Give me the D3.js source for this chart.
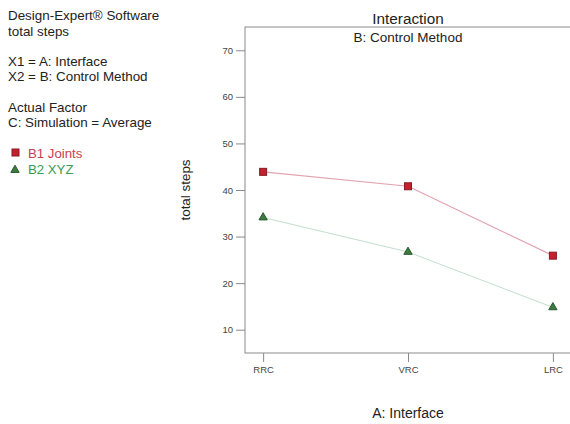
<!DOCTYPE html>
<html>
<head>
<meta charset="utf-8">
<script src="https://cdn.jsdelivr.net/npm/d3@7"></script>
<style>
  body { margin: 0; background: #fff; }
  text { font-family: "Liberation Sans", Arial, sans-serif; }
</style>
</head>
<body>
<div id="chart"></div>
<script>
var interfaces = ["RRC", "VRC", "LRC"];
var joints = [43.9, 40.8, 25.9];
var xyz = [34.1, 26.7, 14.8];
var yTicks = [10, 20, 30, 40, 50, 60, 70];
var infoLines = [
  ["Design-Expert\u00ae Software", 15],
  ["total steps", 31],
  ["X1 = A: Interface", 61],
  ["X2 = B: Control Method", 76],
  ["Actual Factor", 107],
  ["C: Simulation = Average", 122]
];

var width = 570, height = 424;
var margin = {top: 27, right: -1, bottom: 71, left: 245};

var svg = d3.select("#chart")
    .append("svg")
    .attr("width", width)
    .attr("height", height);

// left info block
svg.selectAll(".info")
    .data(infoLines)
    .enter()
    .append("text")
    .attr("x", 8)
    .attr("y", d => d[1])
    .attr("dy", "0.35em")
    .style("font-size", "13.4px")
    .style("fill", "#222")
    .text(d => d[0]);

// legend
svg.append("rect")
    .attr("x", 12).attr("y", 149).attr("width", 7).attr("height", 7)
    .style("fill", "#c42030").style("stroke", "#8a1a22");
svg.append("text")
    .attr("x", 28).attr("y", 153).attr("dy", "0.35em")
    .style("font-size", "13.2px").style("fill", "#c8404e")
    .text("B1 Joints");
svg.append("path")
    .attr("d", d3.symbol(d3.symbolTriangle, 30)())
    .attr("transform", "translate(15, 170)")
    .style("fill", "#3c7a40").style("stroke", "#2a5a2e");
svg.append("text")
    .attr("x", 28).attr("y", 169).attr("dy", "0.35em")
    .style("font-size", "13.2px").style("fill", "#3c9a50")
    .text("B2 XYZ");

var plotW = width - margin.right - margin.left;
var plotH = height - margin.top - margin.bottom;

var g = svg.append("g")
    .attr("transform", `translate(${margin.left}, ${margin.top})`);

var x = d3.scalePoint()
    .domain(interfaces)
    .range([0, plotW])
    .padding(0.125);

var y = d3.scaleLinear()
    .domain([5, 75])
    .range([plotH, 0]);

// frame
g.append("rect")
    .attr("width", plotW).attr("height", plotH)
    .style("fill", "none").style("stroke", "#8a8a8a").style("stroke-width", 1);

var yAxis = g.append("g")
    .call(d3.axisLeft(y).tickValues(yTicks).tickSize(9).tickPadding(3));
yAxis.select(".domain").remove();
yAxis.selectAll("line").style("stroke", "#8a8a8a");
yAxis.selectAll("text").style("font-size", "9.5px").style("fill", "#444")
    .style("font-family", "Liberation Sans, Arial, sans-serif");

var xAxis = g.append("g")
    .attr("transform", `translate(0, ${plotH})`)
    .call(d3.axisBottom(x).tickSize(9).tickPadding(4));
xAxis.select(".domain").remove();
xAxis.selectAll("line").style("stroke", "#8a8a8a");
xAxis.selectAll("text").style("font-size", "9.5px").style("fill", "#444")
    .style("font-family", "Liberation Sans, Arial, sans-serif");

// titles
svg.append("text")
    .attr("x", 408).attr("y", 19).attr("dy", "0.35em")
    .attr("text-anchor", "middle")
    .style("font-size", "15.3px").style("fill", "#222")
    .text("Interaction");
svg.append("text")
    .attr("x", 408).attr("y", 37).attr("dy", "0.35em")
    .attr("text-anchor", "middle")
    .style("font-size", "13.5px").style("fill", "#222")
    .text("B: Control Method");
svg.append("text")
    .attr("x", 408).attr("y", 413).attr("dy", "0.35em")
    .attr("text-anchor", "middle")
    .style("font-size", "14px").style("fill", "#222")
    .text("A: Interface");
svg.append("text")
    .attr("transform", "translate(185, 190) rotate(-90)")
    .attr("dy", "0.35em")
    .attr("text-anchor", "middle")
    .style("font-size", "13.4px").style("fill", "#222")
    .text("total steps");

// series
var line = d3.line()
    .x((d, i) => x(interfaces[i]))
    .y(d => y(d));

g.append("path")
    .datum(xyz)
    .attr("d", line)
    .style("fill", "none").style("stroke", "#c2dfca").style("stroke-width", 1);

g.append("path")
    .datum(joints)
    .attr("d", line)
    .style("fill", "none").style("stroke", "#e2a2ae").style("stroke-width", 1.2);

g.selectAll(".sq")
    .data(joints)
    .enter()
    .append("rect")
    .attr("x", (d, i) => x(interfaces[i]) - 3.5)
    .attr("y", d => y(d) - 3.5)
    .attr("width", 7).attr("height", 7)
    .style("fill", "#c42030").style("stroke", "#8a1a22");

g.selectAll(".tri")
    .data(xyz)
    .enter()
    .append("path")
    .attr("d", d3.symbol(d3.symbolTriangle, 30)())
    .attr("transform", (d, i) => `translate(${x(interfaces[i])}, ${y(d)})`)
    .style("fill", "#3c7a40").style("stroke", "#2a5a2e");
</script>
</body>
</html>
